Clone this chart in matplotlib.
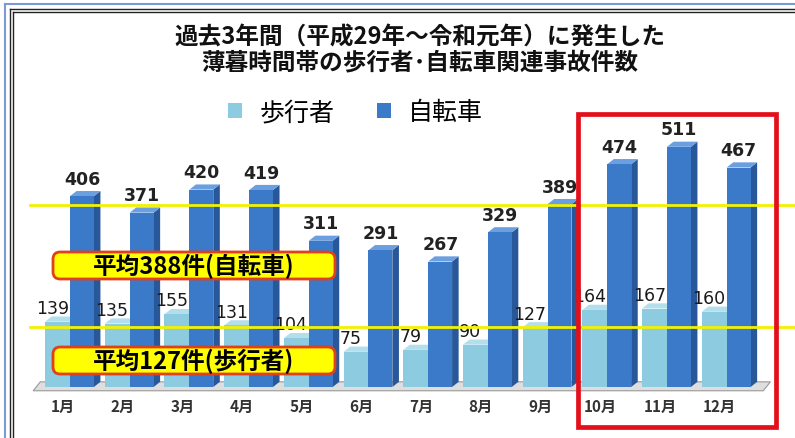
import matplotlib
matplotlib.use('Agg')
import matplotlib.pyplot as plt
from matplotlib.patches import Polygon, FancyBboxPatch, Rectangle
from matplotlib.lines import Line2D
from matplotlib.font_manager import FontProperties
import numpy as np

months = ['1月', '2月', '3月', '4月', '5月', '6月', '7月', '8月', '9月', '10月', '11月', '12月']
pedestrian = [139, 135, 155, 131, 104, 75, 79, 90, 127, 164, 167, 160]
bicycle = [406, 371, 420, 419, 311, 291, 267, 329, 389, 474, 511, 467]
avg_bicycle = 388
avg_pedestrian = 127
series_names = ['歩行者', '自転車']
title_lines = ['過去3年間（平成29年～令和元年）に発生した',
               '薄暮時間帯の歩行者･自転車関連事故件数']
highlight = [9, 11]  # 10月〜12月

JP = ['Noto Sans CJK JP', 'DejaVu Sans']
W, H = 795, 439
step = 59.7          # px per month
ppu = 0.47           # px per count

light_c, light_side, light_top = '#8ccbe0', '#69a9c2', '#b3dfec'
blue_c, blue_side, blue_top = '#3b79c9', '#28589a', '#6b9fe0'

fig = plt.figure(figsize=(W / 100, H / 100), dpi=100)
ax = fig.add_axes([0, 51 / H, 1, 388 / H])
ax.set_xlim(-63 / step, (W - 63) / step)
ax.set_ylim(0, 388 / ppu)
for s in ax.spines.values():
    s.set_visible(False)
ax.set_yticks([])

x = np.arange(len(months))
dx, dy = 0.11, 11

# floor
ax.add_patch(Polygon([(-0.5, -8), (-0.38, 11), (11.85, 11), (11.73, -8)],
                     closed=True, fc='#dedede', ec='#9a9a9a', lw=0.8, clip_on=False, zorder=1))

b1 = ax.bar(x - 0.30, pedestrian, width=0.42, align='edge', color=light_c, zorder=2)
b2 = ax.bar(x + 0.117, bicycle, width=0.40, align='edge', color=blue_c, zorder=4)


def depth(bars, side_c, top_c, z):
    for r in bars:
        l, w, v = r.get_x(), r.get_width(), r.get_height()
        rr = l + w
        ax.add_patch(Polygon([(rr, 0), (rr + dx, dy), (rr + dx, v + dy), (rr, v)],
                             closed=True, fc=side_c, ec='none', zorder=z))
        ax.add_patch(Polygon([(l, v), (l + dx, v + dy), (rr + dx, v + dy), (rr, v)],
                             closed=True, fc=top_c, ec='none', zorder=z))


depth(b1, light_side, light_top, 1.5)
depth(b2, blue_side, blue_top, 3.5)

# value labels
for i, v in enumerate(pedestrian):
    ax.text(i - 0.18, v + 10, str(v), ha='center', va='bottom', fontsize=12.5,
            color='#1a1a1a', zorder=6)
for i, v in enumerate(bicycle):
    ax.text(i + 0.32, v + 18, str(v), ha='center', va='bottom', fontsize=12.5,
            fontweight='bold', color='#222222', zorder=6)

# average lines
x0 = -33 / step
x1 = (W - 63) / step
ax.plot([x0, x1], [avg_bicycle, avg_bicycle], color='#f2f200', lw=2, zorder=7)
ax.plot([x0, x1], [avg_pedestrian, avg_pedestrian], color='#f2f200', lw=2, zorder=7)

# callouts
def callout(yc, txt):
    xl, xr = -10 / step, 272 / step
    hh = 13.5 / ppu
    ax.add_patch(FancyBboxPatch((xl, yc - hh), xr - xl, 2 * hh,
                                boxstyle='round,pad=0,rounding_size=0.12',
                                mutation_aspect=step / ppu,
                                fc='#ffff00', ec='#e0401a', lw=2, zorder=8))
    ax.text((xl + xr) / 2, yc, txt, ha='center', va='center', fontsize=17,
            fontweight='bold', family=JP, zorder=9)


callout((388 - 266.5) / ppu, f'平均{avg_bicycle}件(自転車)')
callout((388 - 361.5) / ppu, f'平均{avg_pedestrian}件(歩行者)')

# highlight box
ax.add_patch(Rectangle((highlight[0] - 0.37, -85), highlight[1] - highlight[0] + 1.31, 666,
                       fill=False, ec='#e3101c', lw=3.4, clip_on=False, zorder=10))

ax.set_xticks(x)
ax.set_xticklabels(months, fontproperties=FontProperties(family=JP, size=11, weight='bold'),
                   color='#333333')
ax.tick_params(axis='x', length=0, pad=8)

ax.legend(handles=[b1, b2], labels=series_names, loc='center',
          bbox_to_anchor=(355.5 / W, 1 - 113 / H), bbox_transform=fig.transFigure,
          ncol=2, frameon=False, prop=FontProperties(family=JP, size=18),
          handlelength=0.55, handleheight=0.55, handletextpad=0.7, columnspacing=1.7)

for k, t in enumerate(title_lines):
    fig.text(420 / W, 1 - (38 + 24 * k) / H, t, ha='center', va='center',
             fontsize=17, fontweight='bold', family=JP, color='#111111')

# frame
fig.add_artist(Line2D([5 / W, 5 / W], [0, 1 - 5 / H], color='#7a9ad8', lw=1.5))
fig.add_artist(Line2D([5 / W, 1], [1 - 5 / H, 1 - 5 / H], color='#7a9ad8', lw=1.5))
for off in (10, 13):
    fig.add_artist(Line2D([off / W, off / W], [0, 1 - off / H], color='#222222', lw=1))
    fig.add_artist(Line2D([off / W, 1], [1 - off / H, 1 - off / H], color='#222222', lw=1))

fig.savefig('out.png', dpi=100)
